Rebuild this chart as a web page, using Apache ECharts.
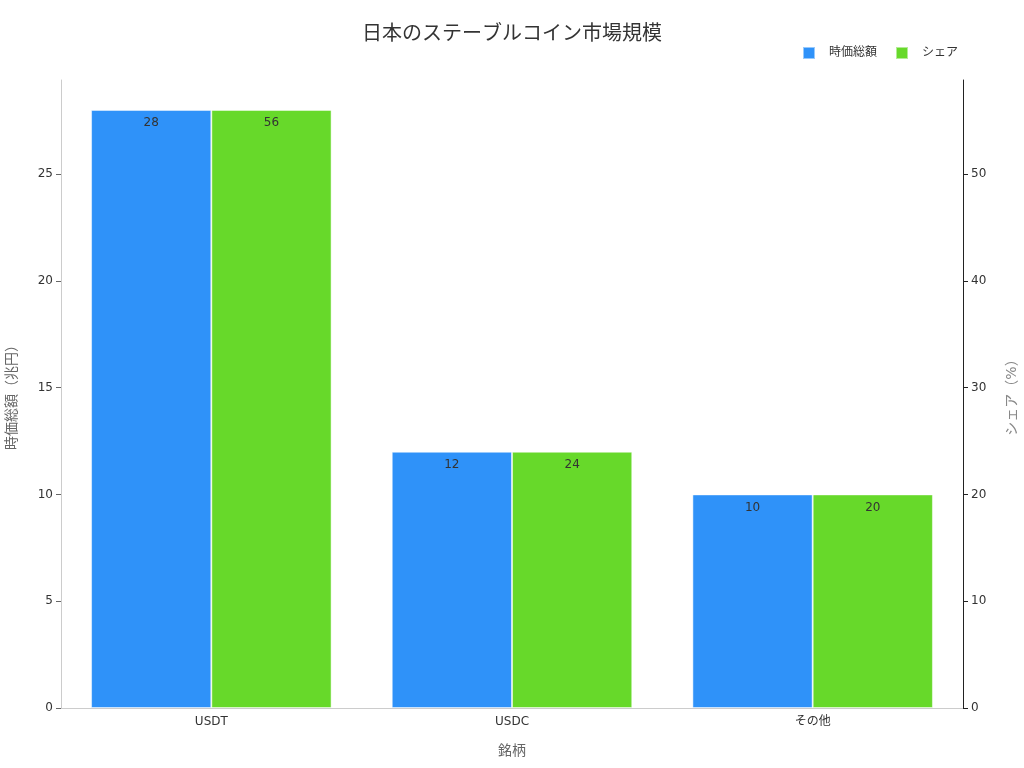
<!DOCTYPE html>
<html lang="ja">
<head>
  <meta charset="UTF-8">
  <title>日本のステーブルコイン市場規模</title>
  <script src="https://cdn.jsdelivr.net/npm/echarts@6/dist/echarts.min.js"></script>
  <style>
    html, body { margin: 0; padding: 0; background: #fff; }
    #chart { width: 1024px; height: 768px; }
  </style>
</head>
<body>
  <div id="chart"></div>
  <script>
    // データ
    var categories = ['USDT', 'USDC', 'その他'];
    var marketCap = [28, 12, 10];   // 兆円
    var share = [56, 24, 20];       // %

    var font = '"DejaVu Sans", "Noto Sans CJK JP", sans-serif';

    var chart = echarts.init(document.getElementById('chart'));
    var option = {
      textStyle: { fontFamily: font },
      title: {
        text: '日本のステーブルコイン市場規模',
        left: 'center',
        top: 20,
        textStyle: { fontSize: 20, fontWeight: 'normal', color: '#333', fontFamily: font }
      },
      legend: {
        right: 61,
        top: 41,
        icon: 'rect',
        itemWidth: 12,
        itemHeight: 12,
        itemGap: 18,
        textStyle: { fontSize: 12, color: '#333', padding: [0, 0, 0, 9] },
        data: ['時価総額', 'シェア']
      },
      grid: { left: 61, right: 61, top: 80, bottom: 60, outerBoundsMode: 'none', containLabel: false },
      xAxis: {
        type: 'category',
        data: categories,
        name: '銘柄',
        nameLocation: 'middle',
        nameGap: 36,
        nameTextStyle: { fontSize: 14, color: '#666' },
        axisLine: { lineStyle: { color: '#ccc' } },
        axisTick: { alignWithLabel: true, lineStyle: { color: '#666' } },
        axisLabel: { color: '#333', fontSize: 12 }
      },
      yAxis: [
        {
          type: 'value',
          min: 0,
          max: 29.4,
          interval: 5,
          name: '時価総額（兆円）',
          nameLocation: 'middle',
          nameGap: 42,
          nameTextStyle: { fontSize: 14, color: '#666' },
          axisLine: { show: true, lineStyle: { color: '#ccc' } },
          axisTick: { show: true, lineStyle: { color: '#666' } },
          axisLabel: { color: '#333', fontSize: 12, showMaxLabel: false },
          splitLine: { show: false }
        },
        {
          type: 'value',
          min: 0,
          max: 58.8,
          interval: 10,
          name: 'シェア（%）',
          nameLocation: 'middle',
          nameGap: 42,
          nameTextStyle: { fontSize: 14, color: '#888' },
          axisLine: { show: true, lineStyle: { color: '#222' } },
          axisTick: { show: true, lineStyle: { color: '#222' } },
          axisLabel: { color: '#333', fontSize: 12, showMaxLabel: false },
          splitLine: { show: false }
        }
      ],
      series: [
        {
          name: '時価総額',
          type: 'bar',
          yAxisIndex: 0,
          data: marketCap,
          barGap: '0%',
          barCategoryGap: '20%',
          itemStyle: { color: '#2f92f9', borderColor: 'rgba(255,255,255,0.5)', borderWidth: 1 },
          label: { show: true, position: 'insideTop', distance: 7, color: '#333', fontSize: 12 }
        },
        {
          name: 'シェア',
          type: 'bar',
          yAxisIndex: 1,
          data: share,
          itemStyle: { color: '#67d92a', borderColor: 'rgba(255,255,255,0.5)', borderWidth: 1 },
          label: { show: true, position: 'insideTop', distance: 7, color: '#333', fontSize: 12 }
        }
      ]
    };
    chart.setOption(option);
  </script>
</body>
</html>
